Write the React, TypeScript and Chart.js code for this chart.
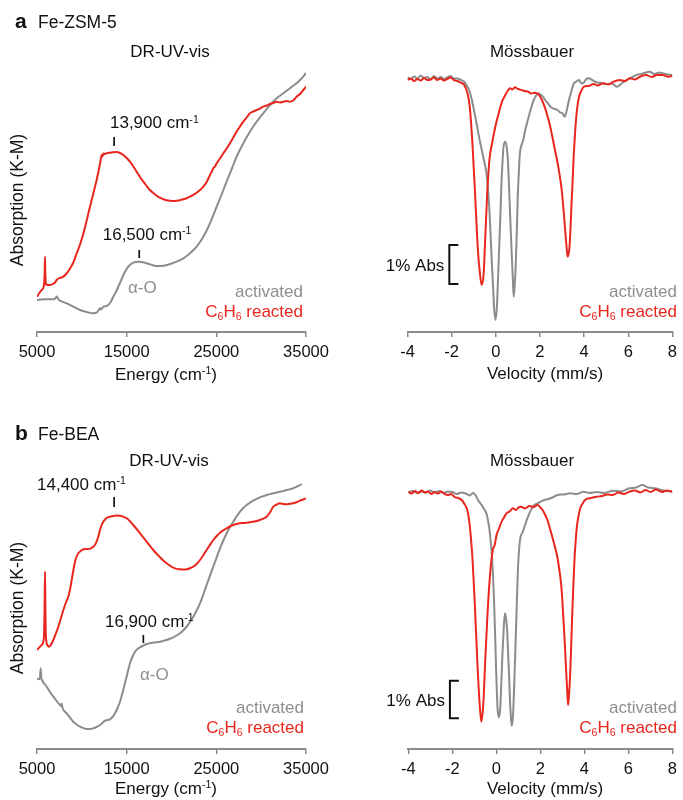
import React, { useEffect, useRef } from 'react';
import { Chart, registerables } from 'chart.js';

Chart.register(...registerables);

const FONT = '"Liberation Sans", Arial, Helvetica, sans-serif';
const RED = '#e9261d';
const GRAY = '#8c8c8c';
const LABEL_GRAY = '#8e8e8e';
const INK = '#111111';

// ---------- axis ticks ----------
const energyTicks = [5000, 15000, 25000, 35000];
const velocityTicks = [-4, -2, 0, 2, 4, 6, 8];

// ---------- (a) Fe-ZSM-5 : DR-UV-vis (energy in cm-1, K-M absorption, arbitrary units) ----------
const zsmUvRxnE = [5000, 5300, 5520, 5750, 5850, 5890, 5930, 6000, 6450, 7000, 7190, 7400, 7940, 8300, 8680, 9050, 9420, 9800, 10170, 10540, 10910, 11280, 11650, 11900, 12100, 12210, 12300, 12400, 12580, 12850, 13140, 13500, 13880, 14250, 14630, 15000, 15370, 15740, 16110, 16490, 16860, 17230, 17600, 17970, 18340, 18720, 19090, 19460, 19830, 20200, 20570, 20950, 21320, 21690, 22060, 22430, 22800, 23180, 23550, 23920, 24290, 24500, 24660, 24850, 25040, 25400, 25780, 26150, 26520, 26890, 27260, 27640, 28010, 28380, 28750, 29120, 29500, 29870, 30240, 30610, 30980, 31350, 31730, 32100, 32470, 32840, 33210, 33580, 33950, 34330, 34700, 35000];
const zsmUvRxn = [36.8, 41, 43.5, 47, 60, 76.8, 60, 49, 48.5, 51, 53.5, 55, 56.8, 60, 65, 71, 80, 89, 100, 113, 126.8, 140, 153.5, 164, 173.5, 178.5, 177, 180, 179.5, 180.5, 180.8, 181.3, 181.5, 180.5, 178.5, 175.5, 171.8, 167, 161.8, 156.5, 151.8, 147.5, 143.5, 140.5, 137.8, 135.8, 134.2, 133.3, 132.8, 132.6, 132.8, 133.3, 134.2, 135.3, 136.8, 138.6, 140.8, 143.5, 146.8, 151.5, 158.5, 162, 165.2, 167, 170.2, 175, 180.2, 185, 190.2, 196, 201.8, 207, 211.8, 216, 220.2, 222, 223.5, 225, 226.8, 228, 229.5, 230.5, 231.8, 231, 231.8, 232.5, 231.8, 233, 236.8, 239.5, 243.5, 246.8];
const zsmUvActE = [5000, 5710, 6450, 7010, 7200, 7270, 7400, 7560, 8310, 9050, 9800, 10540, 11280, 11650, 11850, 12030, 12150, 12400, 12700, 12950, 13250, 13510, 13800, 14070, 14350, 14630, 14900, 15180, 15460, 15740, 16020, 16300, 16580, 16860, 17230, 17600, 17970, 18340, 18720, 19090, 19460, 19830, 20200, 20570, 20950, 21320, 21690, 22060, 22430, 22800, 23180, 23550, 23920, 24290, 24660, 25040, 25410, 25780, 26150, 26520, 26890, 27260, 27640, 28010, 28380, 28750, 29120, 29500, 29870, 30240, 30610, 30980, 31350, 31730, 32100, 32470, 32840, 33210, 33580, 33950, 34330, 34700, 35000];
const zsmUvAct = [33.5, 34.2, 34.2, 34.8, 37, 36.2, 34, 32.8, 30.2, 26.8, 23.5, 21.5, 20.2, 20.8, 23, 25.2, 24, 26.8, 27.5, 28.5, 32, 36.8, 41.5, 46.8, 52.5, 58.5, 63, 66.8, 69.2, 70.8, 71.5, 71.8, 71.6, 71.2, 70.2, 69.2, 68.2, 67.5, 67.4, 67.8, 68.5, 69.5, 70.5, 71.8, 73.3, 75.2, 77.5, 80.2, 83.2, 86.8, 91.5, 96.8, 103, 110.2, 118.2, 126.8, 135, 143.5, 152, 160.2, 168.5, 176.8, 183.8, 190.2, 196.2, 201.8, 207, 211.8, 216.2, 220.2, 224.5, 228.5, 232, 235.2, 237.8, 240.2, 242.8, 245.2, 247.8, 250.2, 253.5, 256.8, 260.8];

// ---------- (a) Fe-ZSM-5 : Mössbauer (velocity mm/s, transmission, arbitrary units) ----------
const zsmMbRxnV = [-4.0, -3.85, -3.7, -3.55, -3.4, -3.25, -3.1, -2.95, -2.8, -2.65, -2.5, -2.35, -2.2, -2.05, -1.9, -1.75, -1.6, -1.43, -1.28, -1.18, -1.06, -0.94, -0.82, -0.72, -0.64, -0.55, -0.47, -0.39, -0.29, -0.17, -0.02, 0.13, 0.28, 0.43, 0.55, 0.65, 0.75, 0.87, 1.0, 1.17, 1.3, 1.47, 1.6, 1.76, 1.9, 1.99, 2.1, 2.21, 2.32, 2.43, 2.54, 2.65, 2.77, 2.88, 2.96, 3.03, 3.09, 3.14, 3.2, 3.25, 3.3, 3.34, 3.39, 3.43, 3.48, 3.52, 3.57, 3.62, 3.69, 3.77, 3.88, 3.99, 4.2, 4.44, 4.6, 4.88, 5.1, 5.33, 5.6, 5.85, 6.07, 6.3, 6.55, 6.81, 7.05, 7.3, 7.56, 7.8, 8.0];
const zsmMbRxn = [253.5, 255, 252.5, 254.5, 253, 255.5, 253.5, 254, 256, 253.5, 255, 253, 254.5, 256, 253.5, 252.5, 251, 248.5, 240, 226.8, 190.2, 140.2, 86.8, 60.2, 48.5, 60, 100, 140, 173.5, 190, 207, 220, 231.8, 238.5, 243, 245.2, 244, 246.2, 244.5, 243.5, 242.5, 241.8, 240, 240.8, 239.5, 237.5, 233, 226.8, 219, 210.2, 199, 186.8, 174, 160.2, 148, 133.5, 118, 103.5, 88, 76.8, 80, 86.8, 108, 130, 152, 173.5, 193, 210, 226, 236.8, 243, 246.8, 247.5, 249.5, 248, 250.2, 249, 251.8, 253.5, 252.5, 255.2, 254, 257, 258.5, 256.5, 258.5, 258.5, 256.8, 257.5];
const zsmMbActV = [-4.0, -3.85, -3.7, -3.55, -3.4, -3.25, -3.1, -2.95, -2.8, -2.65, -2.5, -2.35, -2.2, -2.05, -1.9, -1.73, -1.58, -1.43, -1.32, -1.21, -1.1, -0.99, -0.87, -0.76, -0.65, -0.54, -0.45, -0.39, -0.34, -0.29, -0.23, -0.17, -0.12, -0.08, -0.02, 0.05, 0.1, 0.16, 0.21, 0.25, 0.3, 0.35, 0.43, 0.51, 0.56, 0.6, 0.66, 0.72, 0.77, 0.81, 0.86, 0.9, 0.95, 0.99, 1.04, 1.09, 1.16, 1.24, 1.35, 1.47, 1.58, 1.69, 1.8, 1.91, 2.02, 2.13, 2.25, 2.36, 2.47, 2.58, 2.69, 2.8, 2.91, 3.02, 3.08, 3.13, 3.19, 3.25, 3.32, 3.4, 3.47, 3.54, 3.65, 3.77, 3.88, 3.99, 4.1, 4.21, 4.4, 4.58, 4.8, 5.03, 5.25, 5.48, 5.7, 5.92, 6.15, 6.37, 6.6, 6.96, 7.2, 7.4, 7.56, 7.8, 8.0];
const zsmMbAct = [256, 254.5, 257, 255, 258, 255.5, 256.5, 254, 257.5, 255, 256.5, 254.5, 256, 257.5, 255, 255, 253.5, 251.8, 248, 243.5, 235, 223.5, 210, 196.8, 185, 173.5, 164, 153.5, 140, 123.5, 95, 66.8, 45, 26.8, 13.5, 26.8, 55, 90, 120, 146.8, 170, 186.8, 191.8, 183.5, 168, 146.8, 112, 80, 55, 36.8, 50, 66.8, 100, 133.5, 160, 180, 188, 193.5, 205, 215.2, 224, 231.8, 237, 240.2, 239, 236.8, 233, 230.2, 227, 225.2, 224.5, 223.5, 221, 220.2, 218, 216.8, 221, 226.8, 234, 240.2, 246, 250.2, 252, 253.5, 250, 251, 254.5, 255.2, 253, 251, 250.5, 249.5, 250, 246.8, 250, 253.5, 256, 258.5, 259.5, 261.8, 259.5, 261, 260.2, 259, 258.5];

// ---------- (b) Fe-BEA : DR-UV-vis ----------
const beaUvRxnE = [5000, 5330, 5630, 5780, 5840, 5890, 5940, 5990, 6150, 6380, 6600, 6820, 7100, 7380, 7660, 7940, 8210, 8490, 8680, 8870, 9050, 9240, 9420, 9610, 9900, 10170, 10450, 10720, 11000, 11280, 11460, 11650, 11840, 12030, 12210, 12400, 12590, 12770, 13140, 13510, 13880, 14260, 14630, 15000, 15370, 15740, 16110, 16490, 16860, 17230, 17600, 17970, 18340, 18720, 19090, 19460, 19830, 20200, 20580, 20950, 21320, 21690, 22060, 22430, 22800, 23180, 23550, 23920, 24290, 24660, 25040, 25410, 25780, 26150, 26520, 26890, 27260, 27640, 28010, 28380, 28750, 29120, 29500, 29870, 30240, 30610, 30980, 31350, 31730, 32100, 32470, 32840, 33210, 33580, 33950, 34330, 34700, 35000];
const beaUvRxn = [100.5, 103.8, 107, 115, 140, 178.8, 140, 115, 105.5, 103.8, 106.5, 110.5, 117, 123.8, 132, 140.5, 147.5, 153.8, 161, 170.5, 180, 188.8, 194, 197.2, 199.8, 201.2, 201.6, 201.5, 202.2, 203.8, 205.5, 208.8, 214, 220.5, 225.5, 228.8, 231, 232.8, 233.8, 234.5, 234.9, 234.8, 233.8, 232.2, 229.2, 225.5, 221.5, 217.2, 213, 208.8, 204.6, 200.5, 196.7, 193.2, 190, 187.2, 184.8, 182.8, 181.6, 181.2, 181, 181.2, 182.2, 183.8, 186.5, 190.5, 195.3, 200.5, 205.6, 210.5, 214.5, 217.8, 220.2, 222.2, 224, 225.5, 226.5, 227.2, 227.5, 227.8, 228.2, 228.8, 229.5, 230.5, 231.8, 233.8, 238, 243.8, 246, 247.2, 246.5, 246.2, 246.8, 247.2, 248.2, 249.8, 251, 252.2];
const beaUvActE = [5000, 5200, 5330, 5410, 5480, 5560, 6080, 6450, 6820, 7190, 7560, 7700, 7750, 7850, 8310, 8680, 9050, 9420, 9800, 10170, 10540, 10910, 11280, 11650, 12030, 12300, 12580, 12850, 13140, 13420, 13700, 13980, 14260, 14530, 14810, 15090, 15370, 15650, 15930, 16210, 16490, 16860, 17230, 17600, 17970, 18340, 18720, 19090, 19460, 19830, 20200, 20580, 20950, 21320, 21690, 22060, 22430, 22800, 23180, 23550, 23920, 24290, 24660, 25040, 25410, 25780, 26150, 26520, 26890, 27260, 27640, 28010, 28380, 28750, 29120, 29500, 29870, 30240, 30610, 30980, 31350, 31730, 32100, 32470, 32840, 33210, 33580, 33950, 34330, 34510];
const beaUvAct = [72.2, 71.2, 73, 82.2, 73, 70.5, 63.8, 58.5, 53.8, 49.5, 45.5, 44.5, 47, 42.5, 37.2, 32.8, 28.8, 26, 23.8, 22.5, 21.5, 21.5, 22.2, 23.5, 25.5, 27.5, 29.8, 30.5, 31.2, 33.5, 37.2, 42.5, 48.8, 57.5, 67.2, 77.5, 87.2, 94, 98.8, 101.5, 103.2, 105, 106.5, 107.3, 107.8, 108.3, 108.8, 109.6, 110.5, 111.7, 113.2, 115, 117.2, 120.2, 123.8, 128.5, 133.8, 140, 147.2, 156, 165.5, 174.8, 183.8, 193.2, 202.2, 210, 217.2, 223.5, 228.8, 234, 238.8, 242.5, 245.5, 247.8, 249.8, 251.6, 253.2, 254.4, 255.5, 256.4, 257.2, 258, 258.8, 259.6, 260.5, 261.3, 262.2, 263.8, 265.5, 266.5];

// ---------- (b) Fe-BEA : Mössbauer ----------
const beaMbRxnV = [-4.0, -3.85, -3.7, -3.55, -3.4, -3.25, -3.1, -2.95, -2.8, -2.65, -2.5, -2.35, -2.2, -2.05, -1.9, -1.7, -1.55, -1.47, -1.32, -1.22, -1.1, -0.98, -0.86, -0.76, -0.68, -0.59, -0.51, -0.4, -0.28, -0.16, -0.08, 0.01, 0.12, 0.24, 0.35, 0.46, 0.6, 0.76, 0.9, 1.0, 1.13, 1.3, 1.5, 1.7, 1.87, 2.0, 2.1, 2.21, 2.32, 2.43, 2.54, 2.66, 2.77, 2.86, 2.94, 3.0, 3.06, 3.12, 3.17, 3.22, 3.26, 3.3, 3.35, 3.4, 3.45, 3.5, 3.55, 3.6, 3.66, 3.73, 3.81, 3.92, 4.03, 4.3, 4.55, 4.8, 5.05, 5.29, 5.55, 5.8, 6.04, 6.3, 6.55, 6.78, 7.0, 7.25, 7.52, 7.75, 8.0];
const beaMbRxn = [258.8, 257, 259.5, 257.5, 260, 258, 259, 256.5, 258.5, 257, 259, 256.5, 255.5, 256.5, 253.5, 252.2, 250, 247.2, 240.5, 227.2, 197.2, 147.2, 87.2, 47.2, 28.8, 47.2, 87.2, 137.2, 177.2, 200.5, 205, 215.5, 222, 228.8, 233, 237.2, 239, 242.2, 240.5, 243, 243.8, 242, 244.5, 243.5, 245.5, 243, 240.5, 236, 230.5, 222.5, 213.8, 204, 193.8, 181, 167.2, 150, 127.2, 103, 80.5, 60, 45.5, 55, 73.8, 104, 137.2, 165, 190.5, 208, 223.8, 234, 242.2, 247, 250.5, 252.5, 253.8, 254.5, 256, 255.5, 258, 256.5, 258.8, 260, 258, 260.5, 258.5, 261, 258.5, 260, 258.8];
const beaMbActV = [-4.0, -3.8, -3.6, -3.4, -3.2, -3.0, -2.8, -2.6, -2.4, -2.2, -2.0, -1.8, -1.6, -1.4, -1.2, -1.07, -0.95, -0.85, -0.73, -0.65, -0.58, -0.5, -0.43, -0.38, -0.33, -0.27, -0.21, -0.15, -0.1, -0.05, -0.01, 0.03, 0.06, 0.12, 0.16, 0.19, 0.23, 0.28, 0.33, 0.39, 0.44, 0.49, 0.53, 0.58, 0.62, 0.65, 0.7, 0.74, 0.77, 0.81, 0.86, 0.92, 0.98, 1.04, 1.1, 1.19, 1.28, 1.39, 1.5, 1.61, 1.72, 1.87, 2.02, 2.17, 2.32, 2.55, 2.77, 3.05, 3.36, 3.65, 3.96, 4.25, 4.55, 4.9, 5.29, 5.65, 6.04, 6.35, 6.63, 6.9, 7.23, 7.6, 8.0];
const beaMbAct = [258, 259.5, 257.5, 259, 258, 260, 258, 259.5, 257.5, 259, 258.5, 256.5, 258, 257, 255, 257.5, 255.5, 251, 247.2, 245, 242.2, 239.5, 235.5, 230, 223.8, 212, 197.2, 175, 147.2, 112, 80.5, 55, 40.5, 33.2, 38, 47.2, 70, 97.2, 120, 137.2, 132, 120.5, 100, 73.8, 50, 37.2, 24.5, 30, 40.5, 65, 97.2, 140, 180.5, 203, 213.8, 218, 223.8, 231, 237.2, 242, 245.5, 247, 248.8, 250.5, 251.2, 253, 255.5, 256, 257.2, 256.5, 258.8, 257.5, 258.5, 257.5, 259.8, 259, 262.2, 263, 265.5, 263, 262.2, 260, 258.8];

// ---------- text helpers ----------
type Seg = { t: string; s?: 'sup' | 'sub' };
const plain = (t: string): Seg[] => [{ t }];
const wave = (n: string): Seg[] => [{ t: n + ' cm' }, { t: '-1', s: 'sup' }];
const energyTitle: Seg[] = [{ t: 'Energy (cm' }, { t: '-1', s: 'sup' }, { t: ')' }];
const reacted: Seg[] = [{ t: 'C' }, { t: '6', s: 'sub' }, { t: 'H' }, { t: '6', s: 'sub' }, { t: ' reacted' }];

function drawRich(
  ctx: CanvasRenderingContext2D,
  segs: Seg[],
  x: number,
  y: number,
  size: number,
  color: string,
  align: 'left' | 'right' | 'center',
  weight = 'normal'
) {
  const small = size * 0.62;
  let w = 0;
  for (const s of segs) {
    ctx.font = `${weight} ${s.s ? small : size}px ${FONT}`;
    w += ctx.measureText(s.t).width;
  }
  let cx = align === 'left' ? x : align === 'right' ? x - w : x - w / 2;
  ctx.fillStyle = color;
  ctx.textAlign = 'left';
  ctx.textBaseline = 'alphabetic';
  for (const s of segs) {
    ctx.font = `${weight} ${s.s ? small : size}px ${FONT}`;
    const dy = s.s === 'sup' ? -size * 0.34 : s.s === 'sub' ? size * 0.2 : 0;
    ctx.fillText(s.t, cx, y + dy);
    cx += ctx.measureText(s.t).width;
  }
}

function px(chart: any, v: number) {
  return chart.scales.x.getPixelForValue(v);
}
function py(chart: any, v: number) {
  return chart.scales.y.getPixelForValue(v);
}

function peakMark(ctx: CanvasRenderingContext2D, chart: any, segs: Seg[], tx: number, ty: number, kx: number, k0: number, k1: number) {
  drawRich(ctx, segs, px(chart, tx), py(chart, ty), 17, INK, 'left');
  const x = px(chart, kx);
  ctx.strokeStyle = INK;
  ctx.lineWidth = 1.7;
  ctx.beginPath();
  ctx.moveTo(x, py(chart, k0));
  ctx.lineTo(x, py(chart, k1));
  ctx.stroke();
}

function absBar(ctx: CanvasRenderingContext2D, chart: any, xv: number, y0: number, y1: number) {
  const x = px(chart, xv);
  const top = py(chart, y1);
  const bot = py(chart, y0);
  ctx.strokeStyle = INK;
  ctx.lineWidth = 2;
  ctx.beginPath();
  ctx.moveTo(x + 9, top);
  ctx.lineTo(x, top);
  ctx.lineTo(x, bot);
  ctx.lineTo(x + 9, bot);
  ctx.stroke();
  drawRich(ctx, plain('1% Abs'), x - 5, (top + bot) / 2 + 6, 17, INK, 'right');
}

function legend(ctx: CanvasRenderingContext2D, x: number, b1: number, b2: number) {
  drawRich(ctx, plain('activated'), x, b1, 17, LABEL_GRAY, 'left' === 'left' ? 'right' : 'right');
  drawRich(ctx, reacted, x, b2, 17, RED, 'right');
}

function yLabel(ctx: CanvasRenderingContext2D, cx: number, cy: number) {
  ctx.save();
  ctx.translate(cx, cy);
  ctx.rotate(-Math.PI / 2);
  ctx.font = `17.5px ${FONT}`;
  ctx.fillStyle = INK;
  ctx.textAlign = 'center';
  ctx.textBaseline = 'middle';
  ctx.fillText('Absorption (K-M)', 0, 0);
  ctx.restore();
}

function header(ctx: CanvasRenderingContext2D, letter: string, name: string, baseline: number) {
  drawRich(ctx, plain(letter), 15, baseline, 21, INK, 'left', 'bold');
  drawRich(ctx, plain(name), 38, baseline, 17.5, INK, 'left');
}

// ---------- panel specs ----------
interface Series {
  x: number[];
  y: number[];
  color: string;
}
interface PanelSpec {
  left: number;
  top: number;
  w: number;
  h: number;
  padL: number;
  padR: number;
  padT: number;
  axisH: number;
  xMin: number;
  xMax: number;
  ticks: number[];
  yMin: number;
  yMax: number;
  series: Series[];
  decorate: (ctx: CanvasRenderingContext2D, chart: any) => void;
}

const panels: PanelSpec[] = [
  {
    left: 0, top: 0, w: 340, h: 400, padL: 37, padR: 34, padT: 68, axisH: 68,
    xMin: 5000, xMax: 35000, ticks: energyTicks, yMin: 1.5, yMax: 265.5,
    series: [
      { x: zsmUvRxnE, y: zsmUvRxn, color: RED },
      { x: zsmUvActE, y: zsmUvAct, color: GRAY },
    ],
    decorate: (ctx, chart) => {
      header(ctx, 'a', 'Fe-ZSM-5', 28);
      drawRich(ctx, plain('DR-UV-vis'), 170, 57, 17, INK, 'center');
      yLabel(ctx, 18.5, 200);
      drawRich(ctx, energyTitle, 166, 380, 17, INK, 'center');
      peakMark(ctx, chart, wave('13,900'), 13140, 205.2, 13600, 187.5, 196.5);
      peakMark(ctx, chart, wave('16,500'), 12330, 93.5, 16400, 75.5, 83.5);
      drawRich(ctx, plain('\u03b1-O'), px(chart, 15150), py(chart, 40.5), 17, LABEL_GRAY, 'left');
      legend(ctx, 303, 297, 317);
    },
  },
  {
    left: 340, top: 0, w: 343, h: 400, padL: 67.5, padR: 6.3, padT: 68, axisH: 68,
    xMin: -4, xMax: 8, ticks: velocityTicks, yMin: 1.5, yMax: 265.5,
    series: [
      { x: zsmMbRxnV, y: zsmMbRxn, color: RED },
      { x: zsmMbActV, y: zsmMbAct, color: GRAY },
    ],
    decorate: (ctx, chart) => {
      drawRich(ctx, plain('M\u00f6ssbauer'), 192, 57, 17, INK, 'center');
      drawRich(ctx, plain('Velocity (mm/s)'), 205, 379, 17, INK, 'center');
      absBar(ctx, chart, -2.105, 49.5, 88.5);
      legend(ctx, 337, 297, 317);
    },
  },
  {
    left: 0, top: 400, w: 340, h: 400, padL: 37, padR: 34, padT: 68, axisH: 51,
    xMin: 5000, xMax: 35000, ticks: energyTicks, yMin: 1.5, yMax: 282.5,
    series: [
      { x: beaUvRxnE, y: beaUvRxn, color: RED },
      { x: beaUvActE, y: beaUvAct, color: GRAY },
    ],
    decorate: (ctx, chart) => {
      header(ctx, 'b', 'Fe-BEA', 40);
      drawRich(ctx, plain('DR-UV-vis'), 169, 66, 17, INK, 'center');
      yLabel(ctx, 18.5, 208);
      drawRich(ctx, energyTitle, 166, 394, 17, INK, 'center');
      peakMark(ctx, chart, wave('14,400'), 5000, 260.5, 13600, 243.5, 253.5);
      peakMark(ctx, chart, wave('16,900'), 12580, 123.8, 16860, 107.5, 115.5);
      drawRich(ctx, plain('\u03b1-O'), px(chart, 16490), py(chart, 70.5), 17, LABEL_GRAY, 'left');
      legend(ctx, 304, 313, 333);
    },
  },
  {
    left: 340, top: 400, w: 343, h: 400, padL: 68.3, padR: 5.7, padT: 68, axisH: 51,
    xMin: -4, xMax: 8, ticks: velocityTicks, yMin: 1.5, yMax: 282.5,
    series: [
      { x: beaMbRxnV, y: beaMbRxn, color: RED },
      { x: beaMbActV, y: beaMbAct, color: GRAY },
    ],
    decorate: (ctx, chart) => {
      drawRich(ctx, plain('M\u00f6ssbauer'), 192, 66, 17, INK, 'center');
      drawRich(ctx, plain('Velocity (mm/s)'), 205, 394, 17, INK, 'center');
      absBar(ctx, chart, -2.109, 32.2, 69.8);
      legend(ctx, 337, 313, 333);
    },
  },
];

function Panel({ spec }: { spec: PanelSpec }) {
  const ref = useRef<HTMLCanvasElement>(null);
  useEffect(() => {
    const canvas = ref.current;
    if (!canvas) return;
    const decor = {
      id: 'decor',
      afterDraw(chart: any) {
        const ctx = chart.ctx as CanvasRenderingContext2D;
        ctx.save();
        spec.decorate(ctx, chart);
        ctx.restore();
      },
    };
    const chart = new Chart(canvas, {
      type: 'line',
      data: {
        datasets: spec.series.map((s) => ({
          data: s.x.map((x, i) => ({ x, y: s.y[i] })),
          borderColor: s.color,
          backgroundColor: s.color,
          borderWidth: 2,
          pointRadius: 0,
          fill: false,
          cubicInterpolationMode: 'monotone' as const,
        })),
      },
      options: {
        responsive: false,
        maintainAspectRatio: false,
        animation: false,
        events: [],
        layout: { padding: { left: spec.padL, right: spec.padR, top: spec.padT, bottom: 0 } },
        plugins: { legend: { display: false }, tooltip: { enabled: false }, title: { display: false } },
        scales: {
          x: {
            type: 'linear',
            min: spec.xMin,
            max: spec.xMax,
            afterBuildTicks: (scale: any) => {
              scale.ticks = spec.ticks.map((value) => ({ value }));
            },
            afterFit: (scale: any) => {
              scale.height = spec.axisH;
            },
            ticks: {
              autoSkip: false,
              maxRotation: 0,
              padding: 6,
              color: INK,
              font: { family: FONT, size: 16.5 },
              callback: (v: any) => String(v),
            },
            grid: {
              display: true,
              drawOnChartArea: false,
              drawTicks: true,
              tickLength: 5,
              color: GRAY,
              lineWidth: 1.5,
            },
            border: { display: true, color: GRAY, width: 2 },
          },
          y: { type: 'linear', display: false, min: spec.yMin, max: spec.yMax },
        },
      },
      plugins: [decor],
    } as any);
    return () => chart.destroy();
  }, [spec]);
  return (
    <canvas
      ref={ref}
      width={spec.w}
      height={spec.h}
      style={{ position: 'absolute', left: spec.left, top: spec.top, width: spec.w, height: spec.h }}
    />
  );
}

export default function App() {
  return (
    <div style={{ position: 'absolute', left: 0, top: 0, width: 683, height: 800, background: '#ffffff', overflow: 'hidden' }}>
      {panels.map((p, i) => (
        <Panel key={i} spec={p} />
      ))}
    </div>
  );
}
